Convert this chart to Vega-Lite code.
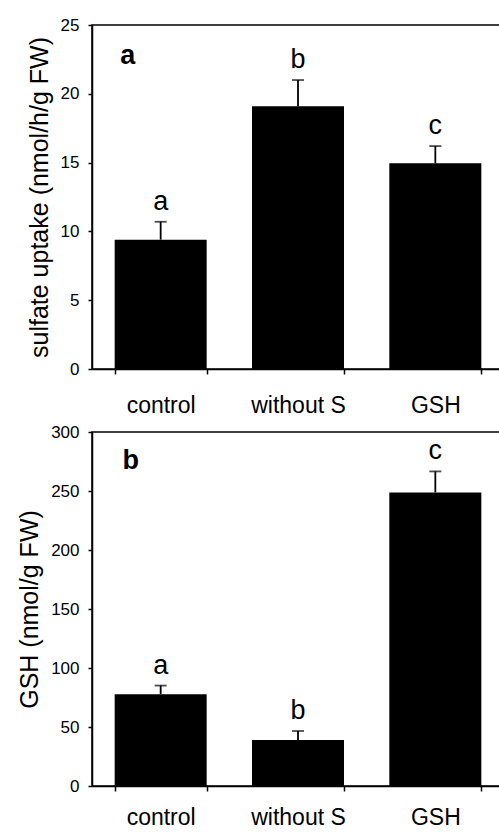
{
  "$schema": "https://vega.github.io/schema/vega-lite/v6.json",
  "background": "white",
  "padding": {"left": 16, "top": 15, "right": 0, "bottom": 0},
  "config": {
    "view": {"stroke": "black", "strokeWidth": 1.5},
    "font": "Liberation Sans",
    "axis": {
      "domainColor": "black", "domainWidth": 1.5,
      "tickColor": "black", "tickWidth": 1.5,
      "labelColor": "black", "titleColor": "black",
      "grid": false,
      "labelFont": "Liberation Sans", "titleFont": "Liberation Sans",
      "titleFontWeight": "normal"
    },
    "concat": {"spacing": 4}
  },
  "datasets": {
    "uptake": [
      {"treatment": "control", "value": 9.4, "upper": 10.7, "letter": "a"},
      {"treatment": "without S", "value": 19.1, "upper": 21.0, "letter": "b"},
      {"treatment": "GSH", "value": 14.95, "upper": 16.2, "letter": "c"}
    ],
    "gsh": [
      {"treatment": "control", "value": 77.8, "upper": 85.1, "letter": "a"},
      {"treatment": "without S", "value": 39.0, "upper": 46.6, "letter": "b"},
      {"treatment": "GSH", "value": 248.8, "upper": 266.6, "letter": "c"}
    ],
    "panelA": [{"panel": "a"}],
    "panelB": [{"panel": "b"}]
  },
  "vconcat": [
    {
      "width": 412,
      "height": 344,
      "data": {"name": "uptake"},
      "encoding": {
        "x": {
          "field": "treatment", "type": "nominal",
          "sort": ["control", "without S", "GSH"],
          "scale": {"paddingInner": 0.33, "paddingOuter": 0.165},
          "axis": {"title": null, "labelAngle": 0, "labelFontSize": 23, "labelPadding": 20, "tickSize": 5, "tickBand": "extent"}
        }
      },
      "layer": [
        {
          "mark": {"type": "bar", "color": "black"},
          "encoding": {
            "y": {
              "field": "value", "type": "quantitative",
              "scale": {"domain": [0, 25], "nice": false},
              "axis": {"title": "sulfate uptake (nmol/h/g FW)", "values": [0, 5, 10, 15, 20, 25], "labelFontSize": 17, "titleFontSize": 25, "tickSize": 4, "labelPadding": 9, "titlePadding": 8}
            }
          }
        },
        {
          "mark": {"type": "rule", "color": "black", "strokeWidth": 1.8},
          "encoding": {"y": {"field": "value", "type": "quantitative"}, "y2": {"field": "upper"}}
        },
        {
          "mark": {"type": "tick", "color": "black", "thickness": 1.8, "size": 12},
          "encoding": {"y": {"field": "upper", "type": "quantitative"}}
        },
        {
          "mark": {"type": "text", "fontSize": 27, "baseline": "alphabetic", "dy": -12, "color": "black"},
          "encoding": {"y": {"field": "upper", "type": "quantitative"}, "text": {"field": "letter"}}
        },
        {
          "data": {"name": "panelA"},
          "mark": {"type": "text", "fontSize": 27, "fontWeight": "bold", "baseline": "alphabetic", "dx": -33, "color": "black"},
          "encoding": {"x": {"datum": "control"}, "y": {"datum": 22.2, "type": "quantitative"}, "text": {"field": "panel"}}
        }
      ]
    },
    {
      "width": 412,
      "height": 354,
      "data": {"name": "gsh"},
      "encoding": {
        "x": {
          "field": "treatment", "type": "nominal",
          "sort": ["control", "without S", "GSH"],
          "scale": {"paddingInner": 0.33, "paddingOuter": 0.165},
          "axis": {"title": null, "labelAngle": 0, "labelFontSize": 23, "labelPadding": 15, "tickSize": 5, "tickBand": "extent"}
        }
      },
      "layer": [
        {
          "mark": {"type": "bar", "color": "black"},
          "encoding": {
            "y": {
              "field": "value", "type": "quantitative",
              "scale": {"domain": [0, 300], "nice": false},
              "axis": {"title": "GSH (nmol/g FW)", "values": [0, 50, 100, 150, 200, 250, 300], "labelFontSize": 17, "titleFontSize": 25, "tickSize": 4, "labelPadding": 9, "titlePadding": 8}
            }
          }
        },
        {
          "mark": {"type": "rule", "color": "black", "strokeWidth": 1.8},
          "encoding": {"y": {"field": "value", "type": "quantitative"}, "y2": {"field": "upper"}}
        },
        {
          "mark": {"type": "tick", "color": "black", "thickness": 1.8, "size": 12},
          "encoding": {"y": {"field": "upper", "type": "quantitative"}}
        },
        {
          "mark": {"type": "text", "fontSize": 27, "baseline": "alphabetic", "dy": -12, "color": "black"},
          "encoding": {"y": {"field": "upper", "type": "quantitative"}, "text": {"field": "letter"}}
        },
        {
          "data": {"name": "panelB"},
          "mark": {"type": "text", "fontSize": 27, "fontWeight": "bold", "baseline": "alphabetic", "dx": -30, "color": "black"},
          "encoding": {"x": {"datum": "control"}, "y": {"datum": 268.6, "type": "quantitative"}, "text": {"field": "panel"}}
        }
      ]
    }
  ]
}
